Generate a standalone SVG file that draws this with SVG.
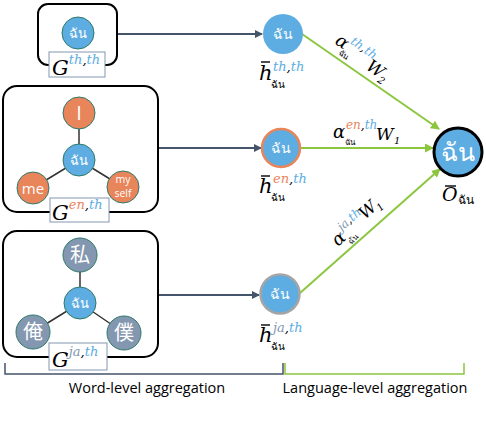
<svg xmlns="http://www.w3.org/2000/svg" width="486" height="430" viewBox="0 0 486 430">
<style>
.box{fill:none;stroke:#000;stroke-width:2}
.lbl{fill:#fff;stroke:#8497B0;stroke-width:1}
.nb{fill:#5DADE2;stroke:#2E7A6A;stroke-width:1}
.no{fill:#E8855B;stroke:#2E7A6A;stroke-width:1}
.ng{fill:#8497B0;stroke:#2E7A6A;stroke-width:1}
.edge{stroke:#333;stroke-width:1.5}
.th{font-family:"Noto Sans","DejaVu Sans",sans-serif;fill:#fff;text-anchor:middle}
.en{font-family:"Open Sans","Liberation Sans",sans-serif;fill:#fff;text-anchor:middle}
.ja{font-family:"Noto Sans CJK JP",sans-serif;fill:#fff;text-anchor:middle}
.m{font-family:"DejaVu Serif","Liberation Serif",serif;font-style:italic;fill:#000}
.cb{fill:#5DADE2}
.co{fill:#E8855B}
.cg{fill:#8497B0}
.sub{font-family:"Noto Sans","DejaVu Sans",sans-serif;font-style:normal;fill:#000}
.arr{stroke:#44546A;stroke-width:2;fill:none}
.grn{stroke:#8CC63F;stroke-width:2;fill:none}
.cap{font-family:"Open Sans","Liberation Sans",sans-serif;font-size:14.5px;fill:#000;text-anchor:middle}
</style>
<defs>
<marker id="ad" markerWidth="8" markerHeight="8" refX="7" refY="4" orient="auto" markerUnits="userSpaceOnUse"><path d="M0,0 L8,4 L0,8 Z" fill="#44546A"/></marker>
<marker id="ag" markerWidth="9" markerHeight="9" refX="8" refY="4.5" orient="auto" markerUnits="userSpaceOnUse"><path d="M0,0 L9,4.5 L0,9 Z" fill="#8CC63F"/></marker>
</defs>

<g id="connectors">
<line class="arr" x1="117" y1="34" x2="262" y2="34" marker-end="url(#ad)"/>
<line class="arr" x1="158" y1="148" x2="261" y2="148" marker-end="url(#ad)"/>
<line class="arr" x1="158" y1="295" x2="259" y2="295" marker-end="url(#ad)"/>
<line class="grn" x1="302" y1="34" x2="439" y2="129" marker-end="url(#ag)"/>
<line class="grn" x1="301" y1="148" x2="433" y2="148" marker-end="url(#ag)"/>
<line class="grn" x1="300" y1="293" x2="440" y2="169" marker-end="url(#ag)"/>
</g>

<g id="graph-th">
<rect class="box" x="38" y="4" width="79" height="61" rx="10"/>
<circle class="nb" cx="78" cy="33" r="16"/>
<text class="th" x="78" y="38" font-size="13">ฉัน</text>
<rect class="lbl" x="49" y="52" width="56" height="25"/>
<text class="m" x="52" y="75" font-size="21">G<tspan class="cb" font-size="13" dy="-11">th</tspan><tspan font-size="13">,</tspan><tspan class="cb" font-size="13">th</tspan></text>
</g>

<g id="graph-en">
<rect class="box" x="3" y="86" width="155" height="126" rx="14"/>
<line class="edge" x1="79" y1="160" x2="79" y2="113"/>
<line class="edge" x1="79" y1="160" x2="33" y2="188"/>
<line class="edge" x1="79" y1="160" x2="123" y2="187"/>
<circle class="no" cx="79" cy="113" r="16"/>
<text class="en" x="79" y="120" font-size="20">I</text>
<circle class="nb" cx="79" cy="160" r="16"/>
<text class="th" x="79" y="165" font-size="13">ฉัน</text>
<circle class="no" cx="33" cy="188" r="16"/>
<text class="en" x="33" y="194" font-size="15">me</text>
<circle class="no" cx="123" cy="187" r="16"/>
<text class="en" x="123" y="183" font-size="10.5">my</text>
<text class="en" x="123" y="197" font-size="10.5">self</text>
<rect class="lbl" x="50" y="198" width="59" height="24"/>
<text class="m" x="52" y="220" font-size="21">G<tspan class="co" font-size="13" dy="-11">en</tspan><tspan font-size="13">,</tspan><tspan class="cb" font-size="13">th</tspan></text>
</g>

<g id="graph-ja">
<rect class="box" x="3" y="231" width="155" height="126" rx="14"/>
<line class="edge" x1="80" y1="303" x2="80" y2="255"/>
<line class="edge" x1="80" y1="303" x2="33" y2="332"/>
<line class="edge" x1="80" y1="303" x2="124" y2="333"/>
<circle class="ng" cx="80" cy="255" r="17"/>
<text class="ja" x="80" y="262" font-size="20">私</text>
<circle class="nb" cx="80" cy="303" r="16"/>
<text class="th" x="80" y="308" font-size="13">ฉัน</text>
<circle class="ng" cx="33" cy="332" r="17"/>
<text class="ja" x="33" y="339" font-size="20">俺</text>
<circle class="ng" cx="124" cy="333" r="17"/>
<text class="ja" x="124" y="340" font-size="20">僕</text>
<rect class="lbl" x="49" y="343" width="58" height="27"/>
<text class="m" x="52" y="367" font-size="21">G<tspan class="cg" font-size="13" dy="-11">ja</tspan><tspan font-size="13">,</tspan><tspan class="cb" font-size="13">th</tspan></text>
</g>

<g id="h-th">
<circle cx="283" cy="34" r="20" fill="#5DADE2"/>
<text class="th" x="283" y="39" font-size="14">ฉัน</text>
<line x1="261" y1="62" x2="270" y2="62" stroke="#000" stroke-width="1.4"/>
<text class="m" x="259" y="80" font-size="21">h</text>
<text class="m" x="273" y="71" font-size="13"><tspan class="cb">th</tspan>,<tspan class="cb">th</tspan></text>
<text class="sub" x="271" y="88" font-size="10">ฉัน</text>
</g>

<g id="h-en">
<circle cx="281" cy="148" r="19" fill="#5DADE2" stroke="#E8855B" stroke-width="2.5"/>
<text class="th" x="281" y="153" font-size="14">ฉัน</text>
<line x1="261" y1="176" x2="270" y2="176" stroke="#000" stroke-width="1.4"/>
<text class="m" x="259" y="193" font-size="21">h</text>
<text class="m" x="273" y="183" font-size="13"><tspan class="co">en</tspan>,<tspan class="cb">th</tspan></text>
<text class="sub" x="271" y="201" font-size="10">ฉัน</text>
</g>

<g id="h-ja">
<circle cx="280" cy="294" r="19.5" fill="#5DADE2" stroke="#A5A5A5" stroke-width="2.5"/>
<text class="th" x="280" y="299" font-size="14">ฉัน</text>
<line x1="261" y1="325" x2="270" y2="325" stroke="#000" stroke-width="1.4"/>
<text class="m" x="259" y="342" font-size="21">h</text>
<text class="m" x="273" y="332" font-size="13"><tspan class="cg">ja</tspan>,<tspan class="cb">th</tspan></text>
<text class="sub" x="271" y="350" font-size="10">ฉัน</text>
</g>

<g id="o-th">
<circle cx="458" cy="152" r="24" fill="#5DADE2" stroke="#000" stroke-width="3"/>
<text class="th" x="458" y="161" font-size="25">ฉัน</text>
<line x1="445" y1="186" x2="456" y2="186" stroke="#000" stroke-width="1.4"/>
<text class="m" x="442" y="201" font-size="19">O</text>
<text class="sub" x="458" y="204" font-size="12">ฉัน</text>
</g>

<g id="weights">
<g transform="translate(334,43) rotate(35)">
<text class="m" x="0" y="0" font-size="18">α</text>
<text class="m" x="13" y="-9" font-size="12"><tspan class="cb">th</tspan>,<tspan class="cb">th</tspan></text>
<text class="sub" x="10" y="7" font-size="8">ฉัน</text>
<text class="m" x="40" y="3" font-size="17">W</text>
<text class="m" x="57" y="7" font-size="10">2</text>
</g>
<g>
<text class="m" x="333" y="138" font-size="18">α</text>
<text class="m" x="346" y="129" font-size="12"><tspan class="co">en</tspan>,<tspan class="cb">th</tspan></text>
<text class="sub" x="345" y="145" font-size="8">ฉัน</text>
<text class="m" x="376" y="140" font-size="17">W</text>
<text class="m" x="394" y="144" font-size="10">1</text>
</g>
<g transform="translate(338,247) rotate(-42)">
<text class="m" x="0" y="0" font-size="18">α</text>
<text class="m" x="13" y="-9" font-size="12"><tspan class="cg">ja</tspan>,<tspan class="cb">th</tspan></text>
<text class="sub" x="11" y="7" font-size="8">ฉัน</text>
<text class="m" x="38" y="-2" font-size="17">W</text>
<text class="m" x="55" y="2" font-size="10">1</text>
</g>
</g>

<g id="brackets">
<path d="M5,363 V374 H283 V363" fill="none" stroke="#44546A" stroke-width="1.5"/>
<path d="M285,363 V374 H464 V363" fill="none" stroke="#8CC63F" stroke-width="1.5"/>
<text class="cap" x="147" y="393">Word-level aggregation</text>
<text class="cap" x="375" y="393">Language-level aggregation</text>
</g>
</svg>
